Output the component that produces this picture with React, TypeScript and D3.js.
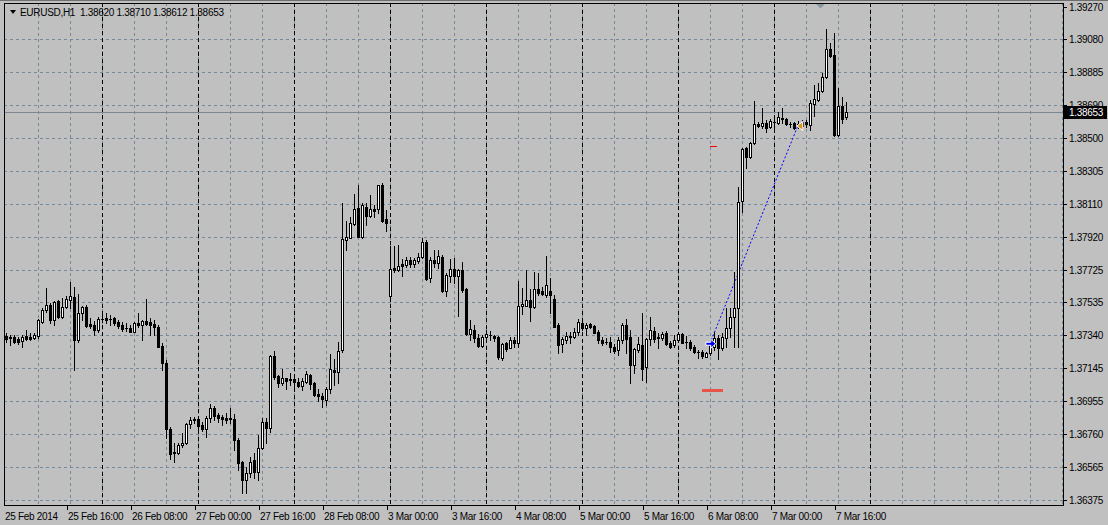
import React, { useEffect } from 'react';
import * as d3 from 'd3';

// ---------- data ----------
const symbolTitle = 'EURUSD,H1';
const lastBarOHLC = [1.3862, 1.3871, 1.38612, 1.38653];
const bidPrice = 1.38653;

const days = ['2014-02-25', '2014-02-26', '2014-02-27', '2014-02-28', '2014-03-03', '2014-03-04', '2014-03-05', '2014-03-06', '2014-03-07'];

const opens = [
  1.37337, 1.37331, 1.37331, 1.37319, 1.37307, 1.37337, 1.37331, 1.37325, 1.37337, 1.37419,
  1.37489, 1.37519, 1.37431, 1.37542, 1.37448, 1.37507, 1.37548, 1.37566, 1.37313, 1.37472,
  1.37507, 1.37407, 1.37401, 1.37372, 1.37437, 1.37442, 1.37437, 1.37442, 1.37419, 1.37401,
  1.37384, 1.37384, 1.3736, 1.37413, 1.37401, 1.37425, 1.37419, 1.37407, 1.3739, 1.37278,
  1.37178, 1.36791, 1.36656, 1.3665, 1.36697, 1.36709, 1.3682, 1.36849, 1.36849, 1.36814,
  1.36791, 1.36855, 1.36914, 1.36873, 1.36861, 1.36855, 1.36855, 1.36849, 1.36726, 1.36597,
  1.36491, 1.36533, 1.36609, 1.36538, 1.36679, 1.36832, 1.36797, 1.3722, 1.37102, 1.37061,
  1.3709, 1.37085, 1.37085, 1.37067, 1.37043, 1.37067, 1.37108, 1.37061, 1.36997, 1.36985,
  1.36961, 1.37026, 1.37137, 1.37126, 1.37255, 1.379, 1.37912, 1.37994, 1.38088, 1.37918,
  1.38094, 1.38041, 1.38082, 1.38082, 1.38223, 1.38023, 1.37572, 1.37736, 1.37724, 1.37759,
  1.37753, 1.37783, 1.37759, 1.37777, 1.378, 1.37888, 1.37677, 1.37783, 1.37765, 1.378,
  1.37601, 1.37689, 1.3773, 1.37689, 1.37724, 1.37613, 1.37348, 1.37372, 1.37325, 1.37278,
  1.37331, 1.37343, 1.37337, 1.37331, 1.37208, 1.37296, 1.37266, 1.37313, 1.37296, 1.37513,
  1.37513, 1.37548, 1.37507, 1.37613, 1.37601, 1.37578, 1.37601, 1.37554, 1.37401, 1.3729,
  1.37313, 1.37331, 1.37331, 1.3736, 1.37413, 1.37384, 1.37407, 1.37396, 1.3736, 1.37313,
  1.37302, 1.37302, 1.37272, 1.37255, 1.37313, 1.37401, 1.37331, 1.37167, 1.37255, 1.37284,
  1.37155, 1.37319, 1.37366, 1.37331, 1.37325, 1.37354, 1.37296, 1.37284, 1.37313, 1.37348,
  1.37302, 1.37302, 1.37272, 1.37243, 1.37243, 1.37214, 1.37237, 1.37272, 1.37325, 1.37266,
  1.37325, 1.37384, 1.37448, 1.37501, 1.38129, 1.3844, 1.38388, 1.3847, 1.38581, 1.38569,
  1.38587, 1.38564, 1.38593, 1.38587, 1.38616, 1.38611, 1.38581, 1.38587, 1.38569, 1.38569,
  1.38593, 1.38575, 1.38698, 1.38722, 1.38775, 1.38857, 1.39021, 1.38986, 1.38517, 1.38687, 1.3862,
];

const highs = [
  1.37354, 1.37343, 1.37343, 1.37331, 1.37343, 1.37372, 1.37354, 1.37354, 1.37437, 1.37501,
  1.37619, 1.3753, 1.37542, 1.37548, 1.3756, 1.37572, 1.37654, 1.37624, 1.37583, 1.37513,
  1.37519, 1.37442, 1.37425, 1.37448, 1.37472, 1.37472, 1.3746, 1.37448, 1.37431, 1.37419,
  1.37413, 1.37401, 1.37419, 1.37472, 1.37431, 1.37554, 1.37442, 1.37431, 1.37401, 1.37296,
  1.37196, 1.36802, 1.36709, 1.36709, 1.36767, 1.36826, 1.36861, 1.36861, 1.36861, 1.36832,
  1.36867, 1.36938, 1.36926, 1.36885, 1.36873, 1.36885, 1.36914, 1.36879, 1.36738, 1.36603,
  1.36568, 1.36626, 1.3665, 1.36755, 1.36855, 1.36855, 1.37225, 1.37249, 1.37108, 1.37143,
  1.3709, 1.3712, 1.37096, 1.3709, 1.3709, 1.37131, 1.37114, 1.37067, 1.37026, 1.37002,
  1.37038, 1.37231, 1.37202, 1.37302, 1.38117, 1.38012, 1.38035, 1.3817, 1.38223, 1.38117,
  1.38117, 1.38164, 1.38106, 1.38223, 1.38235, 1.38076, 1.37865, 1.37865, 1.37871, 1.37789,
  1.378, 1.378, 1.37795, 1.37824, 1.37912, 1.379, 1.378, 1.37842, 1.37842, 1.37812,
  1.37706, 1.37789, 1.37795, 1.3773, 1.37771, 1.37619, 1.37431, 1.37401, 1.37348, 1.37343,
  1.37372, 1.37366, 1.37343, 1.37337, 1.37296, 1.37302, 1.37331, 1.37331, 1.3766, 1.37619,
  1.37724, 1.37613, 1.37712, 1.37706, 1.37624, 1.37806, 1.37677, 1.37578, 1.37413, 1.37331,
  1.3736, 1.3736, 1.37384, 1.37437, 1.37442, 1.37413, 1.37413, 1.37401, 1.37372, 1.37331,
  1.37325, 1.37331, 1.3729, 1.37331, 1.37413, 1.37437, 1.37372, 1.37266, 1.37331, 1.37472,
  1.37325, 1.37448, 1.3739, 1.37354, 1.3736, 1.37366, 1.37307, 1.37343, 1.37354, 1.37354,
  1.37337, 1.37313, 1.37284, 1.37255, 1.37255, 1.37243, 1.37313, 1.3736, 1.37343, 1.37354,
  1.37501, 1.37501, 1.37712, 1.38211, 1.3844, 1.38446, 1.38475, 1.38716, 1.38593, 1.38675,
  1.38605, 1.38611, 1.38616, 1.38652, 1.38675, 1.38616, 1.38593, 1.38593, 1.38599, 1.38605,
  1.38605, 1.38722, 1.3881, 1.38822, 1.38881, 1.39139, 1.39057, 1.39115, 1.38793, 1.3874, 1.3871,
];

const lows = [
  1.37302, 1.37284, 1.37296, 1.3729, 1.37272, 1.37313, 1.37313, 1.37319, 1.37325, 1.37413,
  1.37478, 1.37413, 1.37401, 1.37442, 1.37442, 1.37501, 1.37501, 1.37137, 1.37302, 1.37431,
  1.3739, 1.37384, 1.37343, 1.3736, 1.37419, 1.37413, 1.37401, 1.37401, 1.37384, 1.37366,
  1.37366, 1.3736, 1.37358, 1.3739, 1.37313, 1.37401, 1.37343, 1.37343, 1.37272, 1.37137,
  1.36738, 1.36615, 1.36597, 1.36644, 1.36685, 1.36703, 1.36797, 1.36826, 1.36779, 1.36779,
  1.36744, 1.36832, 1.36844, 1.36832, 1.36814, 1.36826, 1.36826, 1.36668, 1.3655, 1.36415,
  1.36415, 1.36509, 1.36503, 1.36491, 1.36673, 1.36709, 1.36773, 1.37085, 1.37038, 1.37049,
  1.37026, 1.37049, 1.3702, 1.37038, 1.3702, 1.37061, 1.37026, 1.36985, 1.36955, 1.3692,
  1.36932, 1.37002, 1.37049, 1.37061, 1.37243, 1.37842, 1.37912, 1.37988, 1.37918, 1.37912,
  1.37988, 1.38035, 1.38035, 1.38059, 1.38006, 1.37953, 1.37542, 1.37712, 1.37718, 1.37689,
  1.37742, 1.37742, 1.37742, 1.37765, 1.37795, 1.37665, 1.37654, 1.37742, 1.37736, 1.37595,
  1.37572, 1.37654, 1.37648, 1.37454, 1.37595, 1.37343, 1.37313, 1.37302, 1.37272, 1.37272,
  1.37302, 1.37313, 1.37307, 1.37202, 1.37196, 1.37249, 1.37266, 1.37272, 1.37272, 1.37466,
  1.37511, 1.37425, 1.37501, 1.37578, 1.37578, 1.37566, 1.37472, 1.3739, 1.37237, 1.37243,
  1.37296, 1.37296, 1.37325, 1.37343, 1.37372, 1.37343, 1.37384, 1.37354, 1.37296, 1.37284,
  1.3729, 1.37243, 1.37237, 1.37225, 1.37296, 1.37237, 1.37061, 1.3712, 1.37243, 1.37078,
  1.37067, 1.37284, 1.37302, 1.37266, 1.37313, 1.37284, 1.37266, 1.37272, 1.37302, 1.37296,
  1.37266, 1.37255, 1.37237, 1.37208, 1.37208, 1.37212, 1.37225, 1.37255, 1.37202, 1.37255,
  1.37272, 1.37331, 1.37272, 1.37272, 1.38065, 1.38323, 1.38382, 1.38464, 1.38564, 1.38558,
  1.38534, 1.38558, 1.38558, 1.38581, 1.38587, 1.38575, 1.38564, 1.38552, 1.38558, 1.38558,
  1.38564, 1.38546, 1.38628, 1.38716, 1.38769, 1.38851, 1.38974, 1.38511, 1.38511, 1.38587, 1.38612,
];

const closes = [
  1.37319, 1.37325, 1.37302, 1.37302, 1.37331, 1.37319, 1.37319, 1.37343, 1.37431, 1.37489,
  1.37519, 1.37431, 1.37536, 1.37448, 1.37507, 1.37554, 1.37572, 1.37313, 1.37472, 1.37507,
  1.37396, 1.37396, 1.37372, 1.37437, 1.37434, 1.37431, 1.37435, 1.37413, 1.37396, 1.37378,
  1.3738, 1.3736, 1.37413, 1.37401, 1.37425, 1.37407, 1.37401, 1.3739, 1.37272, 1.37178,
  1.36791, 1.36644, 1.3665, 1.36697, 1.36709, 1.3682, 1.36844, 1.36844, 1.36808, 1.36791,
  1.36855, 1.36914, 1.36867, 1.36855, 1.36849, 1.36844, 1.36849, 1.36726, 1.36591, 1.36491,
  1.36533, 1.36597, 1.36538, 1.36679, 1.36832, 1.36797, 1.3722, 1.37096, 1.37061, 1.3709,
  1.37073, 1.37078, 1.37067, 1.37043, 1.37073, 1.37114, 1.37055, 1.36991, 1.36985, 1.36967,
  1.37026, 1.37143, 1.37126, 1.37249, 1.37906, 1.37918, 1.38, 1.38082, 1.37918, 1.38106,
  1.38041, 1.38082, 1.3807, 1.38223, 1.38012, 1.38, 1.3773, 1.37724, 1.37748, 1.37748,
  1.37783, 1.37759, 1.37783, 1.378, 1.37888, 1.37671, 1.37783, 1.37765, 1.37806, 1.37601,
  1.37695, 1.3773, 1.37689, 1.37724, 1.37607, 1.37348, 1.37378, 1.37325, 1.37278, 1.37331,
  1.37348, 1.37341, 1.37325, 1.37214, 1.3729, 1.37261, 1.37313, 1.37296, 1.37513, 1.37525,
  1.37548, 1.37507, 1.37613, 1.37589, 1.37583, 1.37636, 1.37578, 1.3739, 1.37284, 1.37319,
  1.37337, 1.37337, 1.3736, 1.37419, 1.37384, 1.37401, 1.3739, 1.37354, 1.37313, 1.37296,
  1.37298, 1.37272, 1.37249, 1.37313, 1.37401, 1.37319, 1.37167, 1.37258, 1.3729, 1.37143,
  1.37319, 1.37372, 1.37319, 1.37325, 1.37348, 1.3729, 1.37272, 1.37313, 1.37348, 1.37296,
  1.37298, 1.37266, 1.37243, 1.3724, 1.3722, 1.37237, 1.37296, 1.37325, 1.37266, 1.37331,
  1.37384, 1.37448, 1.37501, 1.38123, 1.38434, 1.38388, 1.3847, 1.38581, 1.38569, 1.38587,
  1.38558, 1.38599, 1.3859, 1.38622, 1.38611, 1.38581, 1.38578, 1.38558, 1.38581, 1.38593,
  1.38581, 1.38704, 1.38728, 1.38775, 1.38857, 1.39021, 1.3898, 1.38517, 1.38687, 1.38611, 1.38653,
];

const priceTicks = [1.3927, 1.3908, 1.38885, 1.3869, 1.385, 1.38305, 1.3811, 1.3792, 1.37725, 1.37535, 1.3734, 1.37145, 1.36955, 1.3676, 1.36565, 1.36375];
const timeTicks = ['2014-02-25 16:00', '2014-02-26 08:00', '2014-02-27 00:00', '2014-02-27 16:00', '2014-02-28 08:00', '2014-03-03 00:00', '2014-03-03 16:00', '2014-03-04 08:00', '2014-03-05 00:00', '2014-03-05 16:00', '2014-03-06 08:00', '2014-03-07 00:00', '2014-03-07 16:00'];
const firstTimeLabel = '25 Feb 2014';

const tradeOpenTime = '2014-03-06 08:00';
const tradeOpenPrice = 1.3729;
const tradeCloseTime = '2014-03-07 06:00';
const tradeClosePrice = 1.38569;
const stopLossPrice = 1.3702;
const takeProfitPrice = 1.38452;

// ---------- layout ----------
const W = 1108;
const H = 525;
const L = 4;
const R = 1063;
const T = 3;
const B = 505;
const BAR_SLOTS = 265;

const slots = days.flatMap((d) => d3.range(24).map((h) => `${d} ${String(h).padStart(2, '0')}:00`));
const parseT = d3.timeParse('%Y-%m-%d %H:%M');
const fmtT = d3.timeFormat('%-d %b %H:%M');

const x = d3.scaleLinear().domain([-0.5, BAR_SLOTS - 0.5]).range([L - 0.2, L - 0.2 + BAR_SLOTS * 4]);
const y = d3.scaleLinear().domain([1.36375, 1.3927]).range([499.5, 6.7]);

const font = "'Liberation Sans', Arial, sans-serif";
const GRID = '#778899';

export default function App() {
  useEffect(() => {
    document.body.style.margin = '0';
    document.body.style.background = '#c0c0c0';
  }, []);

  const idx = (t: string) => slots.indexOf(t);
  const px = (i: number) => Math.round(x(i));
  const py = (p: number) => Math.round(y(p));

  const vGrid = d3.range(8, BAR_SLOTS, 8);
  const daySeps = d3.range(1, days.length + 1).map((k) => k * 24);

  const candles = opens.map((o, i) => {
    const c = closes[i];
    const cx = px(i);
    const top = py(Math.max(o, c));
    const bot = py(Math.min(o, c));
    const bull = c > o;
    return (
      <g key={i}>
        <line x1={cx + 0.5} x2={cx + 0.5} y1={py(highs[i])} y2={py(lows[i]) + 1} stroke="#000" strokeWidth={1} />
        {bot - top < 1 ? (
          <line x1={cx - 1} x2={cx + 2} y1={top + 0.5} y2={top + 0.5} stroke="#000" strokeWidth={1} />
        ) : (
          <rect x={cx - 0.5} y={top + 0.5} width={2} height={bot - top} fill={bull ? '#fff' : '#000'} stroke="#000" strokeWidth={1} />
        )}
      </g>
    );
  });

  const oI = idx(tradeOpenTime);
  const cI = idx(tradeCloseTime);
  const ox = x(oI);
  const oy = y(tradeOpenPrice);
  const cxp = x(cI);
  const cyp = y(tradeClosePrice);
  const bidY = py(bidPrice);

  return (
    <svg width={W} height={H} style={{ position: 'absolute', left: 0, top: 0, display: 'block' }} shapeRendering="crispEdges">
      <rect x={0} y={0} width={W} height={H} fill="#c0c0c0" />
      <line x1={0} x2={W} y1={0.5} y2={0.5} stroke="#6e6e6e" />

      {/* horizontal grid */}
      {priceTicks.slice(1).map((p) => (
        <line key={'hg' + p} x1={L} x2={R} y1={py(p) + 0.5} y2={py(p) + 0.5} stroke={GRID} strokeDasharray="3,3" />
      ))}
      {/* vertical grid */}
      {vGrid.map((i) => (
        <line key={'vg' + i} x1={px(i) + 0.5} x2={px(i) + 0.5} y1={T} y2={B} stroke={GRID} strokeDasharray="3,3" />
      ))}
      {/* day separators */}
      {daySeps.map((i) => (
        <line key={'ds' + i} x1={px(i) + 0.5} x2={px(i) + 0.5} y1={T} y2={B} stroke="#000" strokeDasharray="4,3" />
      ))}

      {/* bid line */}
      <line x1={L} x2={R} y1={bidY + 0.5} y2={bidY + 0.5} stroke="#7d8793" />

      {/* trade: dotted connector */}
      <line x1={ox} y1={oy} x2={cxp} y2={cyp} stroke="#0000ff" strokeDasharray="2,2" shapeRendering="auto" />

      {candles}

      {/* SL / TP marks */}
      <rect x={ox - 8} y={py(stopLossPrice) - 1} width={21} height={3} fill="#e8544a" />
      <rect x={ox} y={py(takeProfitPrice)} width={7} height={1} fill="#ff0000" />

      {/* open arrow */}
      <polygon
        transform={`translate(${ox + 1},${oy})`}
        points="-5,-1.5 0,-1.5 0,-4.5 5,0 0,4.5 0,1.5 -5,1.5"
        fill="#0000ff"
        stroke="#fff"
        strokeWidth={1}
        shapeRendering="auto"
      />
      {/* close triangle */}
      <polygon
        transform={`translate(${cxp + 1},${cyp})`}
        points="-2,0 4,-4.5 4,4.5"
        fill="#d99a1a"
        stroke="#fff"
        strokeWidth={1}
        shapeRendering="auto"
      />

      {/* frame */}
      <rect x={L + 0.5} y={T + 0.5} width={R - L} height={B - T} fill="none" stroke="#000" />

      {/* shift marker */}
      <polygon points="816,4 825,4 820.5,8.5" fill="#8a98a6" shapeRendering="auto" />

      {/* header */}
      <polygon points="10,10 16,10 13,14" fill="#000" shapeRendering="auto" />
      <text x={20} y={16} fontFamily={font} fontSize={10} letterSpacing={-0.3} fill="#000" style={{ whiteSpace: 'pre' }}>
        {`${symbolTitle}  ${lastBarOHLC.map((v) => v.toFixed(5)).join(' ')}`}
      </text>

      {/* price axis */}
      {priceTicks.map((p) => (
        <g key={'pt' + p}>
          <line x1={R + 1} x2={R + 4} y1={py(p) + 0.5} y2={py(p) + 0.5} stroke="#000" />
          <text x={1069} y={py(p) + 3.5} fontFamily={font} fontSize={10} letterSpacing={-0.3} fill="#000">
            {p.toFixed(5)}
          </text>
        </g>
      ))}
      <rect x={R + 1} y={bidY - 6} width={43} height={13} fill="#000" />
      <text x={1069} y={bidY + 4} fontFamily={font} fontSize={10} letterSpacing={-0.3} fill="#fff">
        {bidPrice.toFixed(5)}
      </text>

      {/* time axis */}
      <text x={L + 1} y={520} fontFamily={font} fontSize={10} letterSpacing={-0.3} fill="#000">
        {firstTimeLabel}
      </text>
      {timeTicks.map((t) => {
        const tx = px(idx(t));
        return (
          <g key={'tt' + t}>
            <line x1={tx - 2.5} x2={tx - 2.5} y1={B + 1} y2={B + 5} stroke="#000" />
            <text x={tx - 2} y={520} fontFamily={font} fontSize={10} letterSpacing={-0.3} fill="#000">
              {fmtT(parseT(t) as Date)}
            </text>
          </g>
        );
      })}
    </svg>
  );
}
